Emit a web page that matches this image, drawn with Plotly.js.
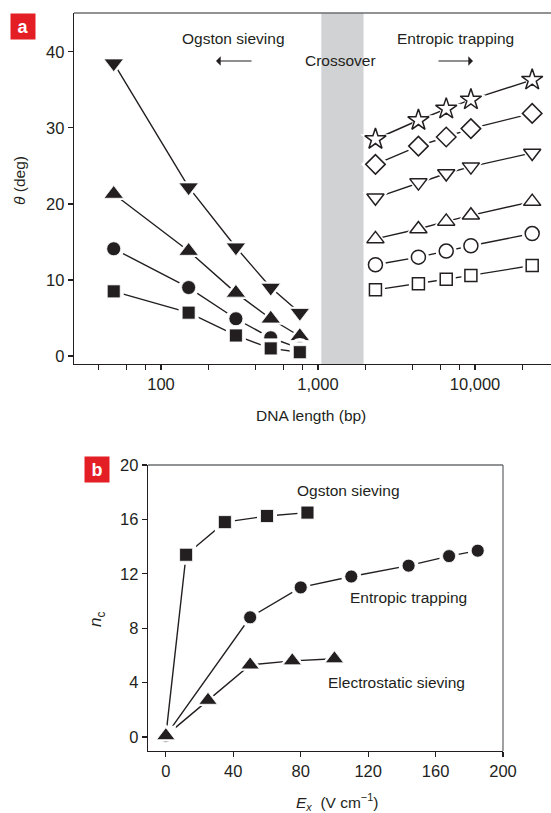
<!DOCTYPE html>
<html>
<head>
<meta charset="utf-8">
<script src="https://cdn.plot.ly/plotly-3.0.1.min.js"></script>
<style>html,body{margin:0;padding:0;background:#fff;}#chart{width:551px;height:813px;}</style>
</head>
<body>
<div id="chart"></div>
<script>
// ---------- Panel a data ----------
const lenShort = [50, 150, 300, 500, 766];
const thetaShortDown = [38.5, 22.2, 14.3, 9.0, 5.7];
const thetaShortUp = [21.3, 13.8, 8.3, 4.9, 2.6];
const thetaShortCircle = [14.1, 9.0, 4.9, 2.4, 1.0];
const thetaShortSquare = [8.5, 5.7, 2.7, 1.0, 0.5];

const lenLong = [2322, 4361, 6557, 9416, 23130];
const thetaLongStar = [28.5, 31.0, 32.5, 33.7, 36.3];
const thetaLongDiamond = [25.2, 27.6, 28.8, 29.9, 31.9];
const thetaLongDown = [20.8, 22.8, 24.0, 24.9, 26.7];
const thetaLongUp = [15.4, 16.7, 17.7, 18.5, 20.3];
const thetaLongCircle = [12.0, 13.0, 13.8, 14.5, 16.1];
const thetaLongSquare = [8.7, 9.5, 10.1, 10.6, 11.9];

const crossover = [1050, 1950];

const xTickValsA = [100, 1000, 10000];
const xTickTextA = ['100', '1,000', '10,000'];
const xMinorValsA = [40, 60, 80, 200, 400, 600, 800, 2000, 4000, 6000, 8000, 20000];
const yTickValsA = [0, 10, 20, 30, 40];

// ---------- Panel b data ----------
const fieldOgston = [0, 12, 35, 60, 84];
const ncOgston = [0.1, 13.4, 15.8, 16.25, 16.5];
const fieldEntropic = [0, 50, 80, 110, 144, 168, 185];
const ncEntropic = [0.1, 8.8, 11.0, 11.8, 12.6, 13.3, 13.7];
const fieldElectro = [0, 25, 50, 75, 100];
const ncElectro = [0.1, 2.7, 5.3, 5.6, 5.75];

const xTickValsB = [0, 40, 80, 120, 160, 200];
const yTickValsB = [0, 4, 8, 12, 16, 20];

// ---------- helpers ----------
const INK = '#231f20';
const FONT = '"Liberation Sans", Arial, sans-serif';
const W = 551, H = 813;
const px = v => v / W;
const py = v => 1 - v / H;

function lineTrace(x, y, xa, ya) {
  return {x: x, y: y, xaxis: xa, yaxis: ya, mode: 'lines', type: 'scatter',
    line: {color: INK, width: 1.4}, hoverinfo: 'skip', showlegend: false};
}
function markerTraces(x, y, xa, ya, symbol, size, filled) {
  const halo = {x: x, y: y, xaxis: xa, yaxis: ya, mode: 'markers', type: 'scatter',
    marker: {symbol: symbol, size: size + 7, color: '#ffffff', line: {width: 0}},
    hoverinfo: 'skip', showlegend: false};
  const mk = {x: x, y: y, xaxis: xa, yaxis: ya, mode: 'markers', type: 'scatter',
    marker: {symbol: symbol, size: size, color: filled ? INK : '#ffffff',
      line: {color: filled ? '#ffffff' : INK, width: filled ? 0.8 : 1.5}},
    showlegend: false};
  return [halo, mk];
}

const seriesA = [
  [lenShort, thetaShortDown, 'triangle-down', 17, true],
  [lenShort, thetaShortUp, 'triangle-up', 17, true],
  [lenShort, thetaShortCircle, 'circle', 14, true],
  [lenShort, thetaShortSquare, 'square', 13, true],
  [lenLong, thetaLongStar, 'star', 16, false],
  [lenLong, thetaLongDiamond, 'diamond', 15, false],
  [lenLong, thetaLongDown, 'triangle-down', 15, false],
  [lenLong, thetaLongUp, 'triangle-up', 15, false],
  [lenLong, thetaLongCircle, 'circle', 14, false],
  [lenLong, thetaLongSquare, 'square', 12, false]
];
const seriesB = [
  [fieldOgston, ncOgston, 'square', 13, true],
  [fieldEntropic, ncEntropic, 'circle', 13, true],
  [fieldElectro, ncElectro, 'triangle-up', 16, true]
];

const traces = [];
seriesA.forEach(s => traces.push(lineTrace(s[0], s[1], 'x', 'y')));
seriesA.forEach(s => traces.push(...markerTraces(s[0], s[1], 'x', 'y', s[2], s[3], s[4])));
seriesB.forEach(s => traces.push(lineTrace(s[0], s[1], 'x2', 'y2')));
seriesB.forEach(s => traces.push(...markerTraces(s[0], s[1], 'x2', 'y2', s[2], s[3], s[4])));

const tickFont = {family: FONT, size: 16.5, color: INK};
const axisCommon = {showline: true, linecolor: INK, linewidth: 1.3, ticks: 'outside', ticklen: 5,
  tickwidth: 1.2, tickcolor: INK, showgrid: false, zeroline: false, tickfont: tickFont, fixedrange: true};

const txt = (text, x, y, opts) => Object.assign({text: text, x: px(x), y: py(y), xref: 'paper', yref: 'paper',
  showarrow: false, xanchor: 'center', yanchor: 'middle', font: {family: FONT, size: 15.5, color: INK}}, opts || {});

const annotations = [
  txt('Ogston sieving', 233, 38),
  txt('Crossover', 340, 60),
  txt('Entropic trapping', 455, 38),
  {x: px(216), y: py(61), xref: 'paper', yref: 'paper', ax: 37, ay: 0, text: '', showarrow: true,
    arrowhead: 1, arrowsize: 1.3, arrowwidth: 1.2, arrowcolor: INK},
  {x: px(473), y: py(61), xref: 'paper', yref: 'paper', ax: -36, ay: 0, text: '', showarrow: true,
    arrowhead: 1, arrowsize: 1.3, arrowwidth: 1.2, arrowcolor: INK},
  txt('<i>θ</i> (deg)', 20, 181, {textangle: -90}),
  txt('DNA length (bp)', 311, 415),
  txt('Ogston sieving', 348, 490),
  txt('Entropic trapping', 408, 597),
  txt('Electrostatic sieving', 396, 682),
  txt('<i>n</i><sub>c</sub>', 97, 620, {textangle: -90, font: {family: FONT, size: 17, color: INK}}),
  txt('<i>E<sub>x</sub></i>  (V cm<sup>−1</sup>)', 337, 802),
  txt('<b>a</b>', 22.5, 26, {bgcolor: '#e31e24', width: 22, height: 23, font: {family: FONT, size: 18, color: '#ffffff'}}),
  txt('<b>b</b>', 96.5, 469.5, {bgcolor: '#e31e24', width: 22, height: 23, font: {family: FONT, size: 18, color: '#ffffff'}})
];

const shapes = [
  {type: 'rect', xref: 'x', yref: 'y domain', x0: crossover[0], x1: crossover[1], y0: 0, y1: 1,
    fillcolor: '#d1d2d4', line: {width: 0}, layer: 'below'},
  {type: 'line', xref: 'x domain', yref: 'y domain', x0: 0, x1: 1, y0: 1, y1: 1, line: {color: '#6d6e71', width: 1.3}},
  {type: 'line', xref: 'x2 domain', yref: 'y2 domain', x0: 0, x1: 1, y0: 1, y1: 1, line: {color: '#6d6e71', width: 1.3}},
  {type: 'line', xref: 'x2 domain', yref: 'y2 domain', x0: 1, x1: 1, y0: 0, y1: 1, line: {color: '#6d6e71', width: 1.3}}
];

const layout = {
  width: W, height: H, margin: {l: 0, r: 0, t: 0, b: 0}, paper_bgcolor: '#ffffff', plot_bgcolor: 'rgba(0,0,0,0)',
  showlegend: false,
  xaxis: Object.assign({}, axisCommon, {type: 'log', domain: [px(74), 1], range: [1.446, 4.484], anchor: 'y',
    tickmode: 'array', tickvals: xTickValsA, ticktext: xTickTextA,
    minor: {tickmode: 'array', tickvals: xMinorValsA, ticks: 'outside', ticklen: 5, tickwidth: 1.2, tickcolor: INK, showgrid: false}}),
  yaxis: Object.assign({}, axisCommon, {domain: [py(364), py(13)], range: [-1.05, 45.1], anchor: 'x',
    tickmode: 'array', tickvals: yTickValsA}),
  xaxis2: Object.assign({}, axisCommon, {domain: [px(148), px(503)], range: [-10.6, 200], anchor: 'y2',
    tickmode: 'array', tickvals: xTickValsB}),
  yaxis2: Object.assign({}, axisCommon, {domain: [py(751), py(465)], range: [-1.03, 20], anchor: 'x2',
    tickmode: 'array', tickvals: yTickValsB}),
  annotations: annotations,
  shapes: shapes
};

Plotly.newPlot('chart', traces, layout, {staticPlot: true, displayModeBar: false});
</script>
</body>
</html>
